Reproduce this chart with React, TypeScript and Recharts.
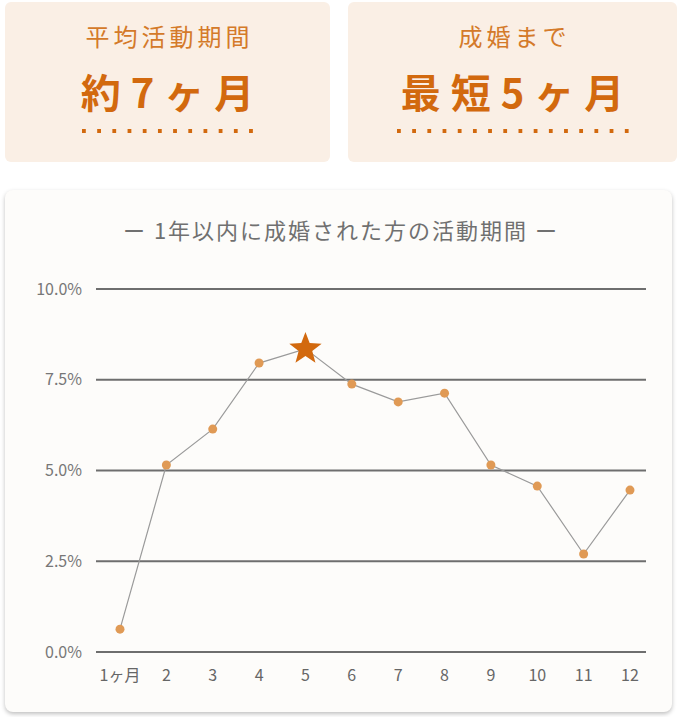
import React from 'react';
import { LineChart, Line, XAxis, YAxis, CartesianGrid } from 'recharts';

const months = ['1ヶ月', '2', '3', '4', '5', '6', '7', '8', '9', '10', '11', '12'];
const shares = [0.63, 5.15, 6.14, 7.96, 8.35, 7.38, 6.89, 7.13, 5.15, 4.57, 2.7, 4.46];
const yTicks = [0, 2.5, 5, 7.5, 10];
const starMonth = '5';

const data = months.map((m, i) => ({ month: m, share: shares[i] }));

const FONT = '"Noto Sans CJK JP", "Noto Sans", sans-serif';
const ORANGE = '#d2690e';

const starPath = (cx: number, cy: number, r: number) => {
  const pts: string[] = [];
  for (let i = 0; i < 10; i++) {
    const rad = i % 2 === 0 ? r : r * 0.42;
    const a = -Math.PI / 2 + (i * Math.PI) / 5;
    pts.push(`${cx + rad * Math.cos(a)},${cy + rad * Math.sin(a)}`);
  }
  return `M${pts.join('L')}Z`;
};

const renderDot = (props: any) => {
  const { cx, cy, payload, index } = props;
  if (payload.month === starMonth) {
    return <path key={`d${index}`} d={starPath(cx, cy, 17)} fill={ORANGE} />;
  }
  return <circle key={`d${index}`} cx={cx} cy={cy} r={4.5} fill="#e09a55" />;
};

const dots = (width: number) => ({
  width,
  height: 4,
  margin: '12px auto 0',
  backgroundImage: `linear-gradient(to right, ${ORANGE} 4px, transparent 4px)`,
  backgroundSize: '15.2px 4px',
  backgroundRepeat: 'repeat-x' as const,
});

const Card = ({ left, width, label, main, dotWidth }: any) => (
  <div
    style={{
      position: 'absolute',
      left,
      top: 2,
      width,
      height: 160,
      background: '#faefe5',
      borderRadius: 6,
      textAlign: 'center',
      fontFamily: FONT,
    }}
  >
    <div style={{ marginTop: 17, fontSize: 24, color: '#d47a2a', letterSpacing: 4, paddingLeft: 4, lineHeight: '34px' }}>{label}</div>
    <div style={{ marginTop: 12, fontSize: 40, fontWeight: 700, color: ORANGE, letterSpacing: 10, lineHeight: '52px', paddingLeft: 10 }}>
      {main}
    </div>
    <div style={dots(dotWidth)} />
  </div>
);

const App = () => {
  return (
    <div style={{ position: 'absolute', left: 0, top: 0, width: 682, height: 717, background: '#fff', fontFamily: FONT }}>
      <Card left={5} width={325} label="平均活動期間" main="約7ヶ月" dotWidth={171} />
      <Card left={348} width={329} label="成婚まで" main="最短5ヶ月" dotWidth={232} />
      <div
        style={{
          position: 'absolute',
          left: 5,
          top: 190,
          width: 667,
          height: 522,
          background: '#fdfcfa',
          borderRadius: 8,
          boxShadow: '0 2px 4px rgba(0,0,0,0.25)',
        }}
      />
      <div style={{ position: 'absolute', left: 0, top: 214, width: 682, textAlign: 'center', fontSize: 22, letterSpacing: 2, color: '#707070', lineHeight: '30px' }}>
        ー 1年以内に成婚された方の活動期間 ー
      </div>
      <div style={{ position: 'absolute', left: 0, top: 0 }}>
        <LineChart width={682} height={717} data={data} margin={{ top: 289, right: 36, bottom: 35, left: 16 }}>
          <CartesianGrid vertical={false} stroke="#6e6e6e" strokeWidth={2} />
          <XAxis
            dataKey="month"
            type="category"
            padding={{ left: 24, right: 16 }}
            axisLine={false}
            tickLine={false}
            interval={0}
            tick={{ fill: '#666', fontSize: 16, fontFamily: FONT }}
            tickMargin={12}
            height={30}
          />
          <YAxis
            domain={[0, 10]}
            ticks={yTicks}
            width={80}
            axisLine={false}
            tickLine={false}
            tickSize={0}
            tickMargin={14}
            tickFormatter={(v: number) => `${v.toFixed(1)}%`}
            tick={{ fill: '#777', fontSize: 16, fontFamily: FONT }}
          />
          <Line
            type="linear"
            dataKey="share"
            stroke="#9a9a9a"
            strokeWidth={1.2}
            dot={renderDot}
            activeDot={false}
            isAnimationActive={false}
          />
        </LineChart>
      </div>
    </div>
  );
};

export default App;
